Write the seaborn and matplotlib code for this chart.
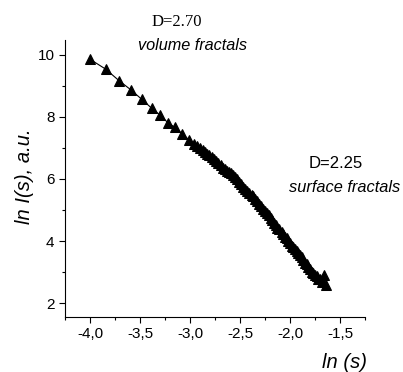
import matplotlib
matplotlib.use("Agg")
import matplotlib.pyplot as plt
import seaborn as sns
import pandas as pd
from matplotlib.ticker import MultipleLocator, FuncFormatter

ln_s = [-4.000, -3.843, -3.710, -3.590, -3.483, -3.383, -3.300, -3.223, -3.150, -3.077,
        -3.010, -2.957, -2.925, -2.900, -2.872, -2.850, -2.825, -2.807, -2.782, -2.760,
        -2.737, -2.717, -2.693, -2.673, -2.652, -2.633, -2.612, -2.593, -2.570, -2.550,
        -2.528, -2.507, -2.487, -2.467, -2.447, -2.427, -2.405, -2.383, -2.365, -2.350,
        -2.328, -2.307, -2.287, -2.267, -2.250, -2.233, -2.213, -2.193, -2.177, -2.160,
        -2.143, -2.127, -2.105, -2.083, -2.067, -2.050, -2.033, -2.017, -2.000, -1.983,
        -1.967, -1.950, -1.933, -1.917, -1.900, -1.883, -1.867, -1.850, -1.833, -1.817,
        -1.800, -1.783, -1.767, -1.750, -1.733, -1.717, -1.700, -1.683, -1.660, -1.640]
ln_I = [9.86, 9.54, 9.17, 8.87, 8.57, 8.28, 8.06, 7.82, 7.66, 7.45,
        7.26, 7.13, 7.07, 6.99, 6.94, 6.86, 6.82, 6.76, 6.71, 6.63,
        6.59, 6.50, 6.44, 6.34, 6.31, 6.25, 6.24, 6.18, 6.14, 6.07,
        6.01, 5.91, 5.84, 5.73, 5.69, 5.61, 5.56, 5.48, 5.44, 5.37,
        5.30, 5.19, 5.12, 5.02, 4.98, 4.89, 4.83, 4.73, 4.68, 4.59,
        4.53, 4.43, 4.39, 4.30, 4.24, 4.14, 4.10, 4.01, 3.94, 3.84,
        3.81, 3.73, 3.69, 3.60, 3.56, 3.47, 3.39, 3.28, 3.25, 3.17,
        3.11, 3.01, 2.98, 2.90, 2.87, 2.79, 2.76, 2.69, 2.91, 2.59]

df = pd.DataFrame({"x": ln_s, "y": ln_I})

sns.set_style("ticks")
plt.rcParams["font.family"] = ["Liberation Sans", "DejaVu Sans"]
plt.rcParams["text.color"] = "black"
plt.rcParams["xtick.color"] = "black"
plt.rcParams["ytick.color"] = "black"
plt.rcParams["axes.labelcolor"] = "black"

W, H = 403, 372
fig = plt.figure(figsize=(W / 100, H / 100), dpi=100)
ax = fig.add_axes([65 / W, 1 - 317 / H, 300 / W, 277 / H])

sns.lineplot(data=df, x="x", y="y", ax=ax, sort=False, color="black",
             linewidth=0.8, marker="^", markersize=6.5, markeredgecolor="black",
             markerfacecolor="black", estimator=None)

ax.set_xlim(-4.25, -1.25)
ax.set_ylim(1.55, 10.48)
ax.xaxis.set_major_locator(MultipleLocator(0.5))
ax.xaxis.set_minor_locator(MultipleLocator(0.25))
ax.yaxis.set_major_locator(MultipleLocator(2))
ax.yaxis.set_minor_locator(MultipleLocator(1))
ax.xaxis.set_major_formatter(FuncFormatter(lambda v, p: f"{v:.1f}".replace(".", ",").replace("\u2212", "-")))
ax.yaxis.set_major_formatter(FuncFormatter(lambda v, p: f"{int(round(v))}"))
ax.tick_params(axis="both", which="major", length=4, width=0.8, labelsize=11,
               direction="out", color="black", labelcolor="black")
ax.tick_params(axis="both", which="minor", length=2.5, width=0.8, direction="out", color="black")
for s in ["top", "right"]:
    ax.spines[s].set_visible(False)
for s in ["left", "bottom"]:
    ax.spines[s].set_linewidth(0.8)
    ax.spines[s].set_color("black")
ax.set_xlabel("")
ax.set_ylabel("")

def px(x, y):
    return x / W, 1 - y / H

fig.text(*px(177, 22), "D=2.70", ha="center", va="center", fontsize=12,
         family=["Liberation Serif"], color="black")
fig.text(*px(193, 45), "volume fractals", ha="center", va="center", fontsize=11.7,
         style="italic", color="black")
fig.text(*px(336, 163), "D=2.25", ha="center", va="center", fontsize=12, color="black")
fig.text(*px(345, 188), "surface fractals", ha="center", va="center", fontsize=11.8,
         style="italic", color="black")
fig.text(*px(24, 176), "ln I(s), a.u.", ha="center", va="center", fontsize=14.5,
         style="italic", rotation=90, color="black")
fig.text(*px(344, 362), "ln (s)", ha="center", va="center", fontsize=14.5,
         style="italic", color="black")

fig.savefig("out.png", dpi=100)
